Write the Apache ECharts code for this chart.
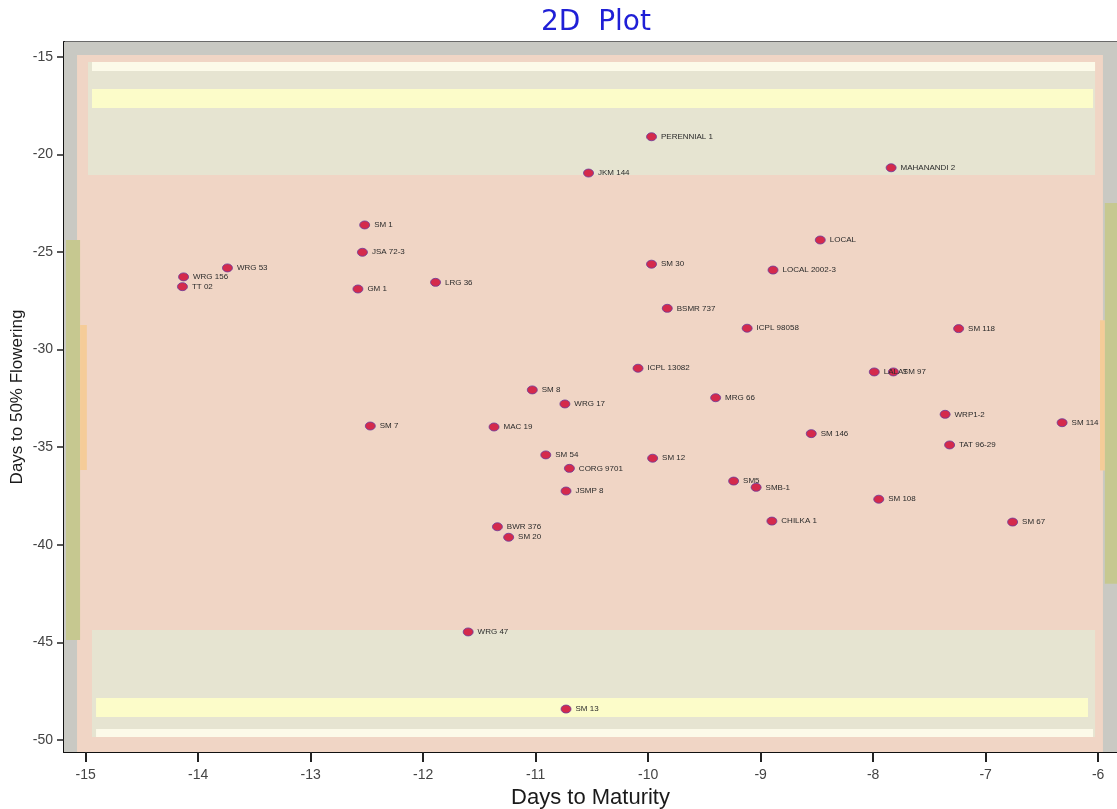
<!DOCTYPE html>
<html>
<head>
<meta charset="utf-8">
<title>2D Plot</title>
<script src="https://cdn.jsdelivr.net/npm/echarts@6/dist/echarts.min.js"></script>
<style>
  html, body { margin: 0; padding: 0; background: #ffffff; }
  #chart { width: 1117px; height: 809px; }
</style>
</head>
<body>
<div id="chart"></div>
<script>
// Genotype names and their coordinates (days to maturity, days to 50% flowering)
const genotypes = [
  'PERENNIAL 1', 'JKM 144', 'MAHANANDI 2', 'SM 1', 'JSA 72-3', 'WRG 53', 'WRG 156', 'TT 02',
  'GM 1', 'LRG 36', 'SM 30', 'LOCAL', 'LOCAL 2002-3', 'BSMR 737', 'ICPL 98058', 'SM 118',
  'ICPL 13082', 'LALAT', 'SM 97', 'SM 8', 'WRG 17', 'MRG 66', 'SM 7', 'MAC 19',
  'SM 54', 'CORG 9701', 'JSMP 8', 'SM 12', 'BWR 376', 'SM 20', 'SM5', 'SMB-1',
  'SM 146', 'WRP1-2', 'SM 114', 'TAT 96-29', 'SM 108', 'CHILKA 1', 'SM 67', 'WRG 47', 'SM 13'
];
const daysToMaturity = [
  -9.97, -10.53, -7.84, -12.52, -12.54, -13.74, -14.13, -14.14,
  -12.58, -11.89, -9.97, -8.47, -8.89, -9.83, -9.12, -7.24,
  -10.09, -7.99, -7.82, -11.03, -10.74, -9.40, -12.47, -11.37,
  -10.91, -10.70, -10.73, -9.96, -11.34, -11.24, -9.24, -9.04,
  -8.55, -7.36, -6.32, -7.32, -7.95, -8.90, -6.76, -11.60, -10.73
];
const daysToFlowering = [
  -19.10, -20.96, -20.69, -23.62, -25.02, -25.82, -26.28, -26.78,
  -26.90, -26.56, -25.63, -24.39, -25.93, -27.89, -28.91, -28.93,
  -30.96, -31.15, -31.15, -32.07, -32.79, -32.47, -33.92, -33.97,
  -35.40, -36.09, -37.25, -35.57, -39.08, -39.62, -36.74, -37.06,
  -34.31, -33.32, -33.75, -34.89, -37.67, -38.79, -38.84, -44.47, -48.42
];

// Tick values on both axes
const xTicks = [-15, -14, -13, -12, -11, -10, -9, -8, -7, -6];
const yTicks = [-50, -45, -40, -35, -30, -25, -20, -15];

// Axis extents
const xMin = -15.193, xMax = -5.832;
const yMin = -50.62, yMax = -14.247;

// Shaded background zones: [x0, y0, x1, y1, colour], painted in order
const zones = [
  [xMin, yMax, xMax, yMin, '#c9c9c3'],
  [-15.077, -14.913, -5.957, yMin, '#f0d5c5'],
  [-14.98, -15.27, -6.027, -21.06, '#e6e4d1'],
  [-14.944, -15.27, -6.027, -15.73, '#fcfae9'],
  [-14.944, -16.65, -6.045, -17.63, '#fcfcc9'],
  [-14.944, -44.37, -6.027, -49.85, '#e6e4d1'],
  [-14.908, -47.85, -6.09, -48.83, '#fcfcc9'],
  [-14.908, -49.44, -6.045, -49.85, '#fcfae9'],
  [-15.175, -24.39, -15.05, -44.88, '#c6c890'],
  [-15.05, -28.74, -14.99, -36.17, '#f5cc98'],
  [-5.94, -22.5, xMax, -42.0, '#c6c890'],
  [-5.983, -28.5, -5.94, -36.2, '#f5cc98']
];

const points = genotypes.map((name, i) => ({
  name: name,
  value: [daysToMaturity[i], daysToFlowering[i]]
}));

const chart = echarts.init(document.getElementById('chart'), null, { renderer: 'canvas' });

chart.setOption({
  animation: false,
  backgroundColor: '#ffffff',
  title: {
    text: '2D  Plot',
    left: 591,
    textAlign: 'center',
    top: 4,
    textStyle: {
      color: '#1f1fd6',
      fontSize: 28,
      fontWeight: 'normal',
      fontFamily: 'DejaVu Sans, Arial, sans-serif'
    }
  },
  grid: {
    left: 64, right: 0, top: 42, bottom: 57,
    outerBoundsMode: 'none',
    containLabel: false,
    show: true,
    borderColor: '#3a3a3a',
    borderWidth: 1.5,
    backgroundColor: 'transparent'
  },
  xAxis: {
    type: 'value',
    min: xMin, max: xMax,
    name: 'Days to Maturity',
    nameLocation: 'middle',
    nameGap: 33,
    nameTextStyle: { color: '#1a1a1a', fontSize: 22, fontFamily: 'Liberation Sans, Arial, sans-serif' },
    splitLine: { show: false },
    axisLine: { show: true, onZero: false, lineStyle: { color: '#111', width: 2 } },
    axisTick: { show: true, length: 10, customValues: xTicks, lineStyle: { color: '#222', width: 2 } },
    axisLabel: {
      customValues: xTicks,
      margin: 16,
      color: '#444',
      fontSize: 14,
      fontFamily: 'Liberation Sans, Arial, sans-serif'
    }
  },
  yAxis: {
    type: 'value',
    min: yMin, max: yMax,
    name: 'Days to 50% Flowering',
    nameLocation: 'middle',
    nameGap: 38,
    nameMoveOverlap: false,
    nameRotate: 90,
    nameTextStyle: { color: '#1a1a1a', fontSize: 17, fontFamily: 'Liberation Sans Narrow, Liberation Sans, Arial, sans-serif' },
    splitLine: { show: false },
    axisLine: { show: true, onZero: false, lineStyle: { color: '#111', width: 2 } },
    axisTick: { show: true, length: 7, customValues: yTicks, lineStyle: { color: '#222', width: 1.5 } },
    axisLabel: {
      customValues: yTicks,
      margin: 11,
      color: '#444',
      fontSize: 14,
      fontFamily: 'Liberation Sans, Arial, sans-serif'
    }
  },
  series: [
    {
      // background zones
      type: 'scatter',
      data: [],
      silent: true,
      markArea: {
        silent: true,
        label: { show: false },
        data: zones.map(z => [
          { coord: [z[0], z[1]], itemStyle: { color: z[4], opacity: 1 } },
          { coord: [z[2], z[3]] }
        ])
      }
    },
    {
      type: 'scatter',
      data: points,
      symbol: 'circle',
      symbolSize: [10, 8],
      z: 5,
      itemStyle: {
        color: '#d42a4c',
        borderColor: '#6a3c9c',
        borderWidth: 0.8,
        opacity: 1
      },
      label: {
        show: true,
        position: 'right',
        distance: 4,
        formatter: p => p.name,
        color: '#2a2a2a',
        fontSize: 8,
        fontFamily: 'Liberation Sans, Arial, sans-serif'
      },
      labelLayout: { hideOverlap: false }
    }
  ]
});
</script>
</body>
</html>
